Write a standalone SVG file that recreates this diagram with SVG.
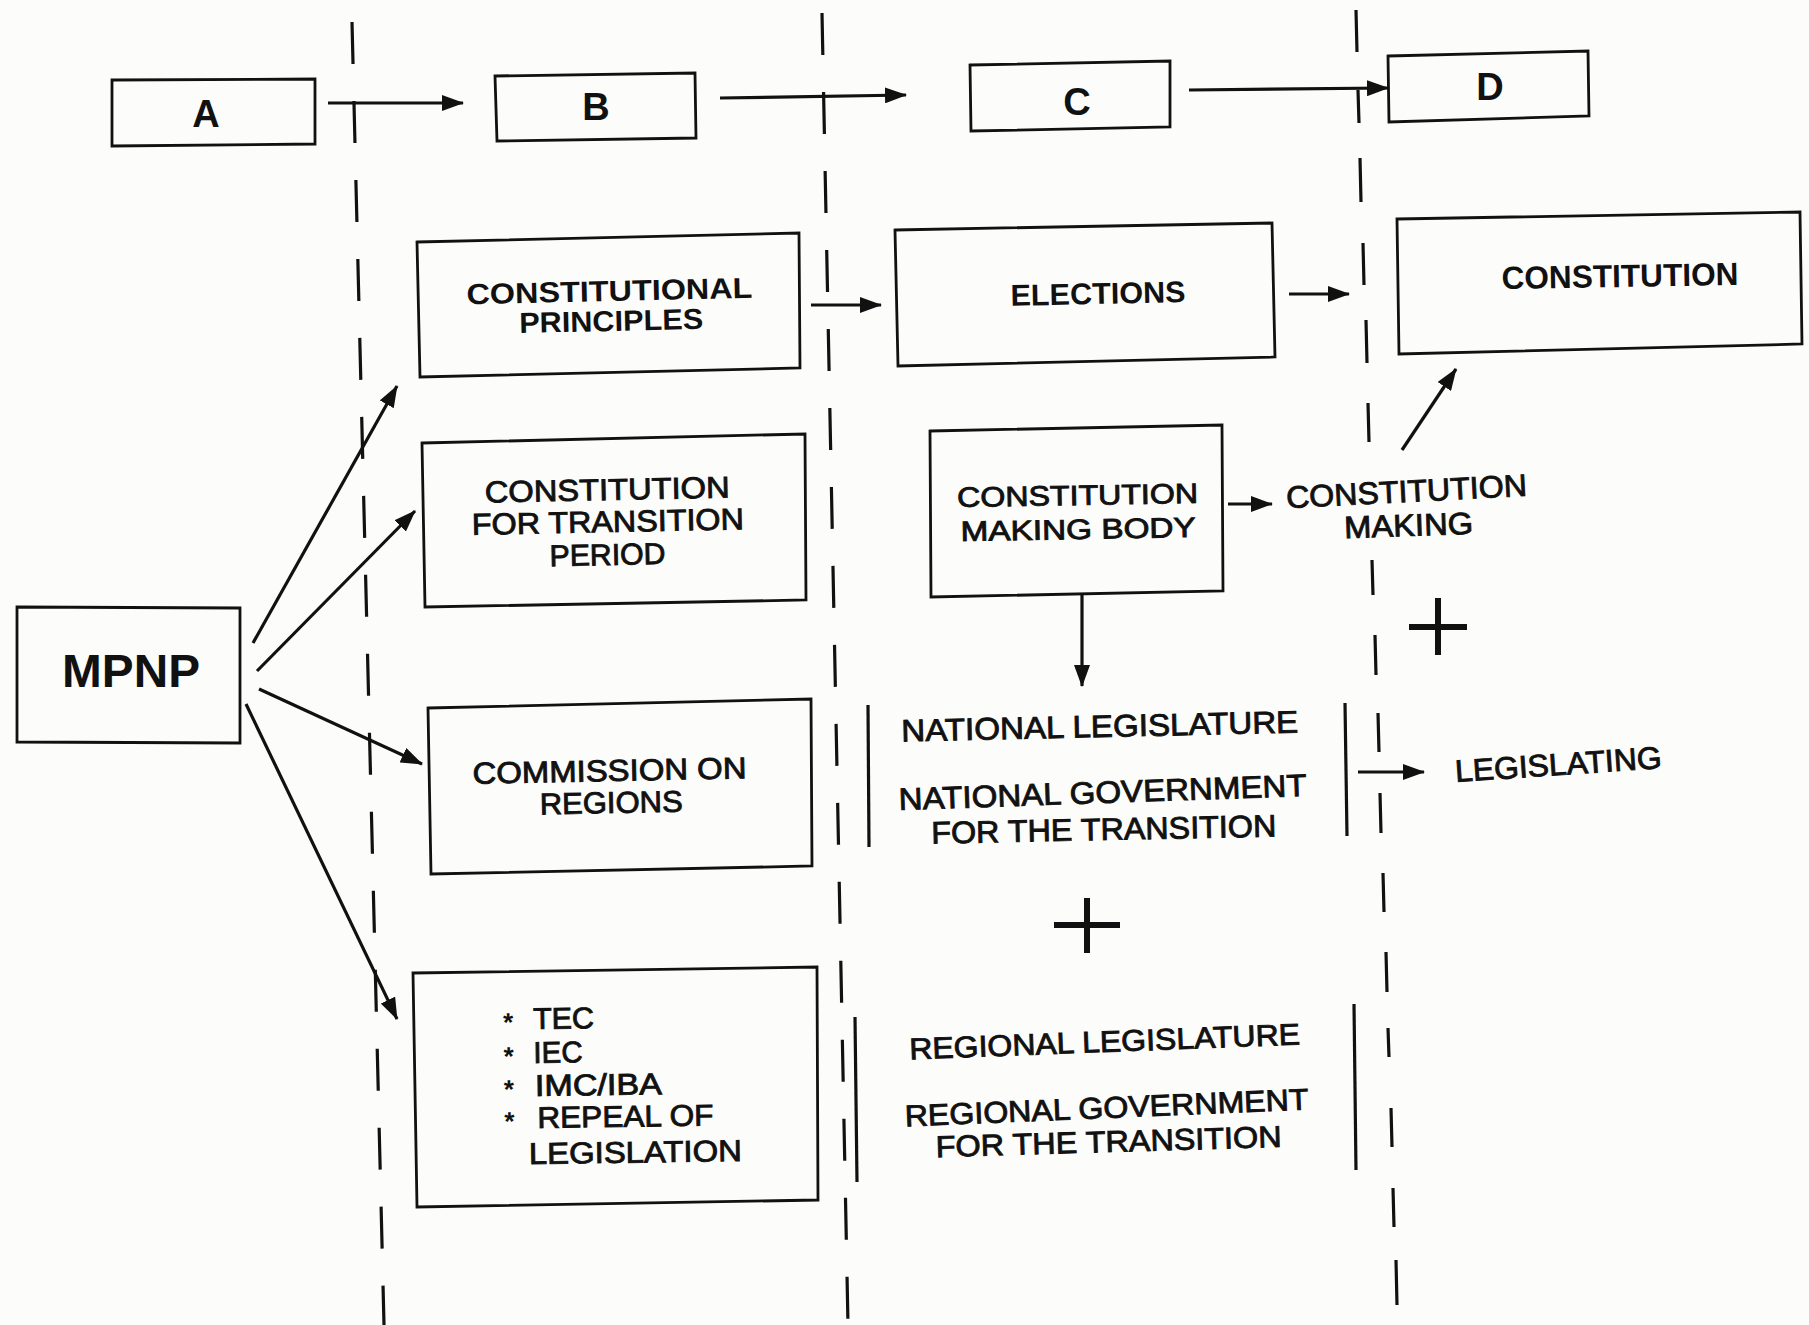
<svg xmlns="http://www.w3.org/2000/svg" width="1809" height="1325" viewBox="0 0 1809 1325">
<defs>
<marker id="ah" viewBox="0 0 22 16" refX="21" refY="8" markerWidth="22" markerHeight="16" markerUnits="userSpaceOnUse" orient="auto">
<path d="M0,0 L22,8 L0,16 Z" fill="#111"/>
</marker>
</defs>
<style>
.box{fill:none;stroke:#111;stroke-width:2.8;stroke-linejoin:miter}
.dash{stroke:#111;stroke-width:3.2;fill:none;stroke-linecap:butt}
.con{stroke:#111;stroke-width:3.2;fill:none;marker-end:url(#ah)}
.brk{stroke:#111;stroke-width:3.2;fill:none}
.plus{stroke:#111;stroke-width:6;fill:none}
text{font-family:"Liberation Sans",Arial,sans-serif;fill:#111}
.b{font-weight:bold}
.m{font-weight:normal;stroke:#111;stroke-width:0.9}
.c{text-anchor:middle}
</style>
<rect width="1809" height="1325" fill="#fcfcfa"/>

<g id="columns">
<line class="dash" x1="352" y1="22" x2="384" y2="1325" stroke-dasharray="42 37"/>
<line class="dash" x1="822" y1="13" x2="848" y2="1325" stroke-dasharray="42 37"/>
<path class="dash" d="M1356,10 L1357,52 M1358,90 L1359,123 M1360,158 L1361,202 M1363,243 L1364,285 M1366,320 L1367,363 M1368,403 L1369,442 M1372,560 L1373,595 M1375,635 L1376,675 M1378,713 L1379,752 M1380,793 L1381,833 M1383,873 L1384,912 M1386,952 L1387,992 M1388,1028 L1389,1057 M1391,1108 L1392,1147 M1393,1188 L1394,1227 M1396,1260 L1397,1305"/>
</g>

<g id="nodeA">
<polygon class="box" points="112,80 315,79 315,144 112,146"/>
<text class="b c" x="206" y="127" font-size="38">A</text>
</g>
<g id="nodeB">
<polygon class="box" points="495,76 695,73 696,138 497,141"/>
<text class="b c" x="596" y="120" font-size="38">B</text>
</g>
<g id="nodeC">
<polygon class="box" points="970,65 1170,61 1170,127 971,131"/>
<text class="b c" x="1077" y="115" font-size="38">C</text>
</g>
<g id="nodeD">
<polygon class="box" points="1388,56 1588,51 1589,116 1389,122"/>
<text class="b c" x="1490" y="100" font-size="38">D</text>
</g>

<g id="constitutional-principles">
<polygon class="box" points="417,242 799,233 800,368 420,377"/>
<g transform="rotate(-1.3 610 315)">
<text class="b c" x="610" y="301" font-size="29" textLength="286" lengthAdjust="spacingAndGlyphs">CONSTITUTIONAL</text>
<text class="b c" x="611" y="331" font-size="29" textLength="184" lengthAdjust="spacingAndGlyphs">PRINCIPLES</text>
</g>
</g>

<g id="elections">
<polygon class="box" points="895,230 1272,223 1275,357 898,366"/>
<text class="b c" x="1098" y="304" font-size="30" textLength="175" lengthAdjust="spacingAndGlyphs" transform="rotate(-1.2 1098 294)">ELECTIONS</text>
</g>

<g id="constitution">
<polygon class="box" points="1397,219 1800,212 1802,344 1399,354"/>
<text class="b c" x="1620" y="287" font-size="32" textLength="237" lengthAdjust="spacingAndGlyphs" transform="rotate(-1 1620 277)">CONSTITUTION</text>
</g>

<g id="mpnp">
<polygon class="box" points="17,607 240,608 240,743 17,742"/>
<text class="b c" x="131" y="687" font-size="46" textLength="138" lengthAdjust="spacingAndGlyphs">MPNP</text>
</g>

<g id="constitution-transition">
<polygon class="box" points="422,443 805,434 806,600 425,607"/>
<g transform="rotate(-1.2 608 530)">
<text class="m c" x="608" y="500" font-size="30" textLength="245" lengthAdjust="spacingAndGlyphs">CONSTITUTION</text>
<text class="m c" x="608" y="532" font-size="30" textLength="272" lengthAdjust="spacingAndGlyphs">FOR TRANSITION</text>
<text class="m c" x="607" y="565" font-size="30" textLength="116" lengthAdjust="spacingAndGlyphs">PERIOD</text>
</g>
</g>

<g id="commission-regions">
<polygon class="box" points="428,708 811,699 812,866 431,874"/>
<g transform="rotate(-1.2 610 795)">
<text class="m c" x="610" y="781" font-size="30" textLength="274" lengthAdjust="spacingAndGlyphs">COMMISSION ON</text>
<text class="m c" x="611" y="813" font-size="30" textLength="143" lengthAdjust="spacingAndGlyphs">REGIONS</text>
</g>
</g>

<g id="transition-list">
<polygon class="box" points="413,973 817,967 818,1200 417,1207"/>
<g transform="rotate(-0.8 600 1090)">
<text class="b" x="504" y="1030" font-size="26">*</text>
<text class="b" x="504" y="1064" font-size="26">*</text>
<text class="b" x="504" y="1097" font-size="26">*</text>
<text class="b" x="504" y="1129" font-size="26">*</text>
<text class="m" x="534" y="1028" font-size="30" textLength="61" lengthAdjust="spacingAndGlyphs">TEC</text>
<text class="m" x="534" y="1062" font-size="30" textLength="49" lengthAdjust="spacingAndGlyphs">IEC</text>
<text class="m" x="535" y="1095" font-size="30" textLength="127" lengthAdjust="spacingAndGlyphs">IMC/IBA</text>
<text class="m" x="537" y="1127" font-size="30" textLength="176" lengthAdjust="spacingAndGlyphs">REPEAL OF</text>
<text class="m" x="528" y="1163" font-size="30" textLength="213" lengthAdjust="spacingAndGlyphs">LEGISLATION</text>
</g>
</g>

<g id="constitution-making-body">
<polygon class="box" points="930,431 1222,425 1223,591 931,597"/>
<g transform="rotate(-1 1078 520)">
<text class="m c" x="1078" y="505" font-size="28" textLength="241" lengthAdjust="spacingAndGlyphs">CONSTITUTION</text>
<text class="m c" x="1078" y="539" font-size="28" textLength="235" lengthAdjust="spacingAndGlyphs">MAKING BODY</text>
</g>
</g>

<g id="constitution-making">
<text class="m c" x="1407" y="502" font-size="31" textLength="241" lengthAdjust="spacingAndGlyphs" transform="rotate(-3 1407 502)">CONSTITUTION</text>
<text class="m c" x="1409" y="536" font-size="31" textLength="129" lengthAdjust="spacingAndGlyphs" transform="rotate(-2 1409 536)">MAKING</text>
</g>

<g id="plus-right">
<path class="plus" d="M1409,627 H1467 M1438,598 V655"/>
</g>

<g id="national">
<line class="brk" x1="868" y1="705" x2="869" y2="847"/>
<line class="brk" x1="1345" y1="703" x2="1347" y2="836"/>
<text class="m c" x="1100" y="737" font-size="31" textLength="397" lengthAdjust="spacingAndGlyphs" transform="rotate(-1.3 1100 737)">NATIONAL LEGISLATURE</text>
<text class="m c" x="1103" y="803" font-size="31" textLength="408" lengthAdjust="spacingAndGlyphs" transform="rotate(-2 1103 803)">NATIONAL GOVERNMENT</text>
<text class="m c" x="1104" y="840" font-size="31" textLength="345" lengthAdjust="spacingAndGlyphs" transform="rotate(-1.2 1104 840)">FOR THE TRANSITION</text>
</g>

<g id="legislating">
<text class="m c" x="1559" y="775" font-size="31" textLength="207" lengthAdjust="spacingAndGlyphs" transform="rotate(-3.9 1559 775)">LEGISLATING</text>
</g>

<g id="plus-middle">
<path class="plus" d="M1054,925 H1120 M1087,898 V953"/>
</g>

<g id="regional">
<line class="brk" x1="855" y1="1017" x2="857" y2="1182"/>
<line class="brk" x1="1354" y1="1004" x2="1356" y2="1170"/>
<text class="m c" x="1105" y="1052" font-size="30" textLength="391" lengthAdjust="spacingAndGlyphs" transform="rotate(-2.2 1105 1052)">REGIONAL LEGISLATURE</text>
<text class="m c" x="1107" y="1118" font-size="30" textLength="404" lengthAdjust="spacingAndGlyphs" transform="rotate(-2.4 1107 1118)">REGIONAL GOVERNMENT</text>
<text class="m c" x="1109" y="1152" font-size="30" textLength="346" lengthAdjust="spacingAndGlyphs" transform="rotate(-1.7 1109 1152)">FOR THE TRANSITION</text>
</g>

<g id="connectors">
<line class="con" x1="328" y1="103" x2="463" y2="103"/>
<line class="con" x1="720" y1="98" x2="906" y2="95"/>
<line class="con" x1="1189" y1="90" x2="1388" y2="88"/>
<line class="con" x1="811" y1="305" x2="881" y2="305"/>
<line class="con" x1="1289" y1="294" x2="1349" y2="294"/>
<line class="con" x1="253" y1="643" x2="397" y2="386"/>
<line class="con" x1="257" y1="671" x2="415" y2="511"/>
<line class="con" x1="259" y1="689" x2="422" y2="764"/>
<line class="con" x1="246" y1="704" x2="397" y2="1019"/>
<line class="con" x1="1228" y1="504" x2="1272" y2="504"/>
<line class="con" x1="1082" y1="593" x2="1082" y2="686"/>
<line class="con" x1="1402" y1="450" x2="1456" y2="369"/>
<line class="con" x1="1358" y1="772" x2="1424" y2="772"/>
</g>
</svg>
